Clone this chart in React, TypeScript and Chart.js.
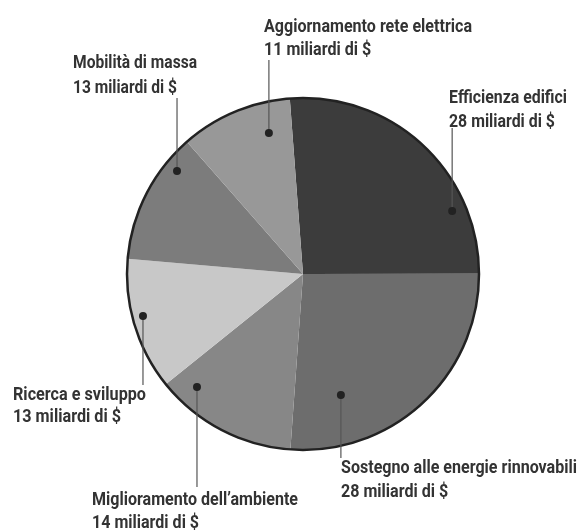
import React, { useEffect, useRef } from "react";
import { Chart, registerables } from "chart.js";

Chart.register(...registerables);

// ---- data ----
const categories = [
  "Efficienza edifici",
  "Sostegno alle energie rinnovabili",
  "Miglioramento dell’ambiente",
  "Ricerca e sviluppo",
  "Mobilità di massa",
  "Aggiornamento rete elettrica",
];
const values = [28, 28, 14, 13, 13, 11];
const unit = "miliardi di $";
const sliceColors = ["#3c3c3c", "#6d6d6d", "#878787", "#c8c8c8", "#7c7c7c", "#989898"];

// ---- label layout (angle of dot in degrees clockwise from top, radius fraction, text placement) ----
const labelLayout = [
  { angle: 67.1, frac: 0.92, textX: 449, base1: 103, base2: 127, lineEnd: 128, width: 118 },
  { angle: 162.6, frac: 0.72, textX: 341, base1: 473, base2: 497, lineEnd: 458, width: 236 },
  { angle: 223.2, frac: 0.88, textX: 92, base1: 505, base2: 528, lineEnd: 487, width: 206 },
  { angle: 255.3, frac: 0.94, textX: 13, base1: 400, base2: 422, lineEnd: 385, width: 133 },
  { angle: 309.3, frac: 0.925, textX: 73, base1: 68, base2: 93, lineEnd: 98, width: 124 },
  { angle: 346.4, frac: 0.824, textX: 264, base1: 32, base2: 55, lineEnd: 60, width: 208 },
];

const labelPlugin = {
  id: "leaderLabels",
  afterDraw(chart: any) {
    const meta = chart.getDatasetMeta(0);
    const arc = meta.data[0];
    if (!arc) return;
    const cx = arc.x;
    const cy = arc.y;
    const R = arc.outerRadius;
    const ctx = chart.ctx;
    ctx.save();
    // outer outline
    ctx.beginPath();
    ctx.arc(cx, cy, R, 0, Math.PI * 2);
    ctx.lineWidth = 2.5;
    ctx.strokeStyle = "#222";
    ctx.stroke();

    ctx.font = "bold 18px Roboto, 'Liberation Sans', sans-serif";
    ctx.textBaseline = "alphabetic";
    ctx.textAlign = "left";
    labelLayout.forEach((l, i) => {
      const a = (l.angle * Math.PI) / 180;
      const dx = cx + Math.sin(a) * R * l.frac;
      const dy = cy - Math.cos(a) * R * l.frac;
      // leader
      ctx.beginPath();
      ctx.moveTo(dx, dy);
      ctx.lineTo(dx, l.lineEnd);
      ctx.lineWidth = 1.2;
      ctx.strokeStyle = "#555";
      ctx.stroke();
      // dot
      ctx.beginPath();
      ctx.arc(dx, dy, 4, 0, Math.PI * 2);
      ctx.fillStyle = "#222";
      ctx.fill();
      // text
      const line1 = categories[i];
      const line2 = `${values[i]} ${unit}`;
      const w = ctx.measureText(line1).width;
      const s = Math.min(1, l.width / w);
      ctx.save();
      ctx.translate(l.textX, 0);
      ctx.scale(s, 1);
      ctx.fillStyle = "#333";
      ctx.fillText(line1, 0, l.base1);
      ctx.fillText(line2, 0, l.base2);
      ctx.restore();
    });
    ctx.restore();
  },
};

export default function App() {
  const ref = useRef<HTMLCanvasElement | null>(null);
  useEffect(() => {
    document.body.style.margin = "0";
    const canvas = ref.current;
    if (!canvas) return;
    const chart = new Chart(canvas, {
      type: "pie",
      data: {
        labels: categories,
        datasets: [
          {
            data: values,
            backgroundColor: sliceColors,
            borderWidth: 0,
          },
        ],
      },
      options: {
        responsive: false,
        animation: false,
        rotation: -4.3,
        layout: { padding: { left: 127, right: 101, top: 98, bottom: 80 } },
        plugins: {
          legend: { display: false },
          tooltip: { enabled: false },
        },
      },
      plugins: [labelPlugin],
    });
    return () => chart.destroy();
  }, []);
  return (
    <div style={{ width: 580, height: 530, background: "#fff" }}>
      <canvas ref={ref} width={580} height={530} style={{ display: "block" }} />
    </div>
  );
}
